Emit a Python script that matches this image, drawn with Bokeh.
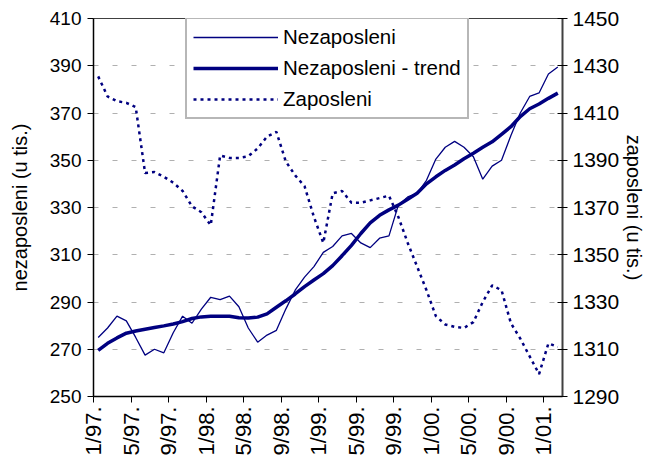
import math
from bokeh.plotting import figure
from bokeh.models import Range1d, LinearAxis, Legend, LegendItem, FixedTicker
from bokeh.embed import file_html
from bokeh.resources import INLINE

# Monthly data, 1/97 .. 2/01
tick_labels = ["1/97.", "5/97.", "9/97.", "1/98.", "5/98.", "9/98.", "1/99.",
               "5/99.", "9/99.", "1/00.", "5/00.", "9/00.", "1/01."]

nezaposleni = [275, 279, 284, 282, 275, 267.5, 270, 268.5, 277, 284,
               281, 287, 292, 291, 292.5, 288, 279, 273, 276, 278,
               287, 295, 300.5, 305, 311, 313.5, 318, 319, 315, 313,
               317, 318, 331, 334.5, 336, 341.5, 350.5, 355.5, 358, 355.5,
               351.5, 342, 347.5, 350, 360.5, 370, 377, 378.5, 386.5, 389.5]

nezaposleni_trend = [269.5, 272.5, 274.8, 276.8, 277.7, 278.5, 279.2, 279.9, 280.7, 281.7,
                     283, 283.7, 284, 284, 284, 283.3, 283.2, 283.6, 285, 287.8,
                     290.5, 293.4, 296.5, 299.3, 302, 305.4, 309.6, 314, 319, 323.5,
                     326.7, 329, 331, 333.5, 336, 340, 343, 345.7, 348, 350.6,
                     353, 355.5, 357.8, 361, 364.2, 368.5, 371.8, 373.8, 376.2, 378.4]

zaposleni = [1425.5, 1417, 1415, 1414.3, 1412.5, 1384.6, 1385, 1383, 1380.5, 1377,
             1370.5, 1368, 1362.5, 1392, 1391, 1391, 1391.7, 1395, 1400, 1402,
             1389.5, 1383.6, 1379, 1366, 1355, 1376, 1377, 1372, 1372, 1373,
             1374, 1375, 1366, 1355, 1345, 1335, 1324, 1320.5, 1319.5, 1319,
             1321.5, 1330, 1337, 1335, 1321, 1314.5, 1307, 1299.5, 1312.5, 1311]

n = len(nezaposleni)
x = [i + 0.5 for i in range(n)]
tick_pos = [4 * k for k in range(len(tick_labels))]

FONT = "Liberation Sans"
NAVY = "#000080"

p = figure(width=648, height=464, output_backend="svg", toolbar_location=None,
           x_range=Range1d(0, n), y_range=Range1d(250, 410),
           min_border_left=93, min_border_right=82, min_border_top=18,
           min_border_bottom=68)
p.extra_y_ranges = {"right": Range1d(1290, 1450)}

p.outline_line_color = "#404040"
p.outline_line_width = 1
p.background_fill_color = "white"
p.border_fill_color = "white"

# grid
p.xgrid.visible = False
p.ygrid.grid_line_color = "#b0b0b0"
p.ygrid.grid_line_dash = "5 14"
p.ygrid.grid_line_width = 1

# x axis
xa = p.xaxis[0]
xa.ticker = FixedTicker(ticks=tick_pos)
xa.major_label_overrides = {t: l for t, l in zip(tick_pos, tick_labels)}
xa.major_label_orientation = math.pi / 2
xa.minor_tick_line_color = None
xa.major_tick_in = 0
xa.major_tick_out = 6
xa.axis_line_color = "black"
xa.axis_line_width = 1.5
xa.major_tick_line_color = "black"
xa.major_label_text_font = FONT
xa.major_label_text_font_size = "22px"
xa.major_label_text_color = "black"
xa.major_label_standoff = 4

# left axis
ya = p.yaxis[0]
ya.ticker = FixedTicker(ticks=list(range(250, 411, 20)))
ya.minor_tick_line_color = None
ya.major_tick_in = 0
ya.major_tick_out = 6
ya.axis_line_color = "black"
ya.axis_line_width = 1.5
ya.major_label_text_font = FONT
ya.major_label_text_font_size = "19px"
ya.major_label_text_color = "black"
ya.major_label_standoff = 6
ya.axis_label = "nezaposleni (u tis.)"
ya.axis_label_text_font = FONT
ya.axis_label_text_font_size = "20px"
ya.axis_label_text_font_style = "normal"
ya.axis_label_text_color = "black"
ya.axis_label_standoff = 16

# right axis
ra = LinearAxis(y_range_name="right")
ra.ticker = FixedTicker(ticks=list(range(1290, 1451, 20)))
ra.minor_tick_line_color = None
ra.major_tick_in = 5
ra.major_tick_out = 5
ra.axis_line_color = "#404040"
ra.axis_line_width = 2
ra.major_label_text_font = FONT
ra.major_label_text_font_size = "21px"
ra.major_label_text_color = "black"
ra.major_label_standoff = 5
ra.axis_label = "zaposleni (u tis.)"
ra.axis_label_text_font = FONT
ra.axis_label_text_font_size = "20px"
ra.axis_label_text_font_style = "normal"
ra.axis_label_text_color = "black"
ra.axis_label_standoff = 1
p.add_layout(ra, "right")

# lines
r1 = p.line(x, nezaposleni, line_color=NAVY, line_width=1.3)
r2 = p.line(x, nezaposleni_trend, line_color=NAVY, line_width=3.5)
r3 = p.line(x, zaposleni, y_range_name="right", line_color=NAVY, line_width=2.5,
            line_dash="3 4")

legend = Legend(items=[LegendItem(label="Nezaposleni", renderers=[r1]),
                       LegendItem(label="Nezaposleni - trend", renderers=[r2]),
                       LegendItem(label="Zaposleni", renderers=[r3])],
                location=(92, 277))
legend.label_text_font = FONT
legend.label_text_font_size = "20.5px"
legend.label_text_color = "black"
legend.glyph_width = 85
legend.glyph_height = 20
legend.label_height = 20
legend.label_standoff = 5
legend.spacing = 7
legend.padding = 6
legend.margin = 0
legend.border_line_color = "#707070"
legend.border_line_width = 2
legend.background_fill_color = "white"
legend.background_fill_alpha = 1
p.add_layout(legend, "center")

open("out.html", "w").write(file_html(p, INLINE))
